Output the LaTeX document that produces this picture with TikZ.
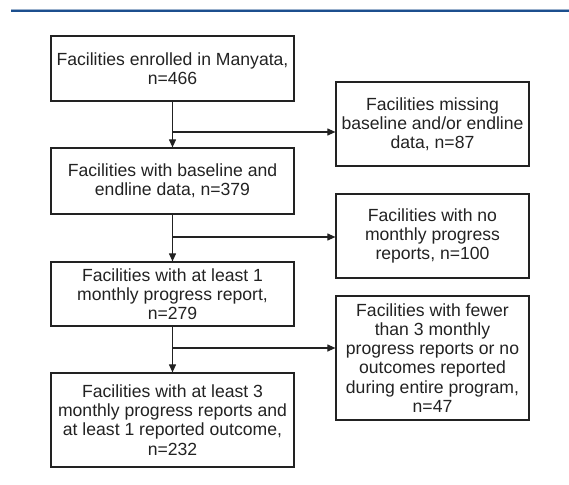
\documentclass[tikz,border=0pt]{standalone}
\usepackage{fontspec}
\setmainfont{Liberation Sans}
\usetikzlibrary{arrows.meta}
\definecolor{rule}{HTML}{1C4F8E}
\definecolor{ink}{HTML}{222222}
\begin{document}
\begin{tikzpicture}[x=1pt,y=-1pt,
  box/.style={draw=ink,line width=1.2pt,text=ink,align=center,inner sep=0pt,
    font=\fontsize{17.6}{19.2}\selectfont},
  mainbox/.style={box,minimum width=243pt},
  sidebox/.style={box,minimum width=193pt},
  link/.style={draw=ink,line width=1.1pt},
  arr/.style={link,-{Triangle[length=8pt,width=7pt]}}]
\useasboundingbox (0,0) rectangle (569,484);
% header rule
\fill[rule] (11,9) rectangle (569,12.5);
\fill[rule!45] (11,8.6) rectangle (569,9.4);

% main column
\node[mainbox,minimum height=65pt] (m1) at (172.5,68.5)
  {Facilities enrolled in Manyata,\\ n=466};
\node[mainbox,minimum height=66pt] (m2) at (172.5,181)
  {Facilities with baseline and\\ endline data, n=379};
\node[mainbox,minimum height=64pt] (m3) at (172.5,294)
  {Facilities with at least 1\\ monthly progress report,\\ n=279};
\node[mainbox,minimum height=94pt] (m4) at (172.5,420)
  {Facilities with at least 3\\ monthly progress reports and\\ at least 1 reported outcome,\\ n=232};

% exclusions
\node[sidebox,minimum height=84pt] (s1) at (432.5,124)
  {Facilities missing\\ baseline and/or endline\\ data, n=87};
\node[sidebox,minimum height=84pt] (s2) at (432.5,236)
  {Facilities with no\\ monthly progress\\ reports, n=100};
\node[sidebox,minimum height=124pt] (s3) at (432.5,358)
  {Facilities with fewer\\ than 3 monthly\\ progress reports or no\\ outcomes reported\\ during entire program,\\ n=47};

% branch points on the main flow
\coordinate (b1) at (172.5,132);
\coordinate (b2) at (172.5,237);
\coordinate (b3) at (172.5,348);

\draw[arr] (m1.south) -- (m2.north);
\draw[arr] (m2.south) -- (m3.north);
\draw[arr] (m3.south) -- (m4.north);
\draw[arr] (b1) -- (b1 -| s1.west);
\draw[arr] (b2) -- (b2 -| s2.west);
\draw[arr] (b3) -- (b3 -| s3.west);
\end{tikzpicture}
\end{document}
